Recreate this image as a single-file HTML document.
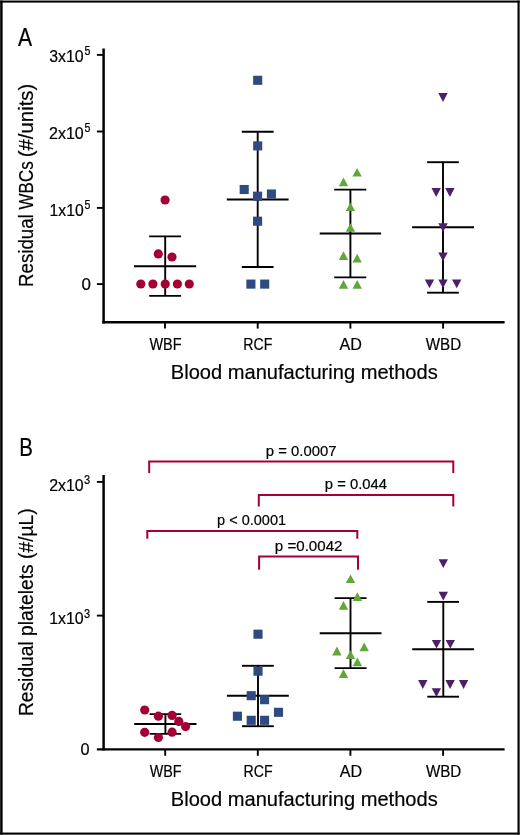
<!DOCTYPE html>
<html><head><meta charset="utf-8"><style>
html,body{margin:0;padding:0;background:#fff;}
svg{display:block;will-change:transform;}
text{font-family:"Liberation Sans",sans-serif;font-kerning:none;stroke:#000;stroke-width:0.2px;}
</style></head><body>
<svg width="520" height="835" viewBox="0 0 520 835">
<rect width="520" height="835" fill="#fff"/>
<line x1="103.6" y1="48.6" x2="103.6" y2="323.4" stroke="#000" stroke-width="2.5"/>
<line x1="102.35" y1="322.25" x2="504.6" y2="322.25" stroke="#000" stroke-width="2.3"/>
<line x1="96.9" y1="54.9" x2="103.6" y2="54.9" stroke="#000" stroke-width="1.9"/>
<line x1="96.9" y1="131.5" x2="103.6" y2="131.5" stroke="#000" stroke-width="1.9"/>
<line x1="96.9" y1="207.9" x2="103.6" y2="207.9" stroke="#000" stroke-width="1.9"/>
<line x1="96.9" y1="284.1" x2="103.6" y2="284.1" stroke="#000" stroke-width="1.9"/>
<line x1="165.0" y1="322.25" x2="165.0" y2="328.6" stroke="#000" stroke-width="1.9"/>
<line x1="257.7" y1="322.25" x2="257.7" y2="328.6" stroke="#000" stroke-width="1.9"/>
<line x1="350.4" y1="322.25" x2="350.4" y2="328.6" stroke="#000" stroke-width="1.9"/>
<line x1="443.1" y1="322.25" x2="443.1" y2="328.6" stroke="#000" stroke-width="1.9"/>
<line x1="165.2" y1="236.4" x2="165.2" y2="295.9" stroke="#000" stroke-width="1.9"/>
<line x1="149.2" y1="236.4" x2="181.1" y2="236.4" stroke="#000" stroke-width="1.9"/>
<line x1="149.2" y1="295.9" x2="181.1" y2="295.9" stroke="#000" stroke-width="1.9"/>
<line x1="134.0" y1="266.3" x2="196.2" y2="266.3" stroke="#000" stroke-width="2.1"/>
<line x1="257.7" y1="131.8" x2="257.7" y2="267.0" stroke="#000" stroke-width="1.9"/>
<line x1="241.8" y1="131.8" x2="273.6" y2="131.8" stroke="#000" stroke-width="1.9"/>
<line x1="241.8" y1="267.0" x2="273.6" y2="267.0" stroke="#000" stroke-width="1.9"/>
<line x1="226.8" y1="199.5" x2="288.6" y2="199.5" stroke="#000" stroke-width="2.1"/>
<line x1="350.4" y1="189.6" x2="350.4" y2="277.4" stroke="#000" stroke-width="1.9"/>
<line x1="334.2" y1="189.6" x2="366.3" y2="189.6" stroke="#000" stroke-width="1.9"/>
<line x1="334.2" y1="277.4" x2="366.3" y2="277.4" stroke="#000" stroke-width="1.9"/>
<line x1="319.7" y1="233.5" x2="381.1" y2="233.5" stroke="#000" stroke-width="2.1"/>
<line x1="443.0" y1="162.2" x2="443.0" y2="292.7" stroke="#000" stroke-width="1.9"/>
<line x1="427.1" y1="162.2" x2="458.8" y2="162.2" stroke="#000" stroke-width="1.9"/>
<line x1="427.1" y1="292.7" x2="458.8" y2="292.7" stroke="#000" stroke-width="1.9"/>
<line x1="412.1" y1="227.3" x2="474.0" y2="227.3" stroke="#000" stroke-width="2.1"/>
<circle cx="165.1" cy="200.0" r="4.6" fill="#A50034"/>
<circle cx="158.3" cy="253.9" r="4.6" fill="#A50034"/>
<circle cx="172.0" cy="257.0" r="4.6" fill="#A50034"/>
<circle cx="140.8" cy="284.0" r="4.6" fill="#A50034"/>
<circle cx="152.9" cy="284.0" r="4.6" fill="#A50034"/>
<circle cx="165.2" cy="284.0" r="4.6" fill="#A50034"/>
<circle cx="177.4" cy="284.0" r="4.6" fill="#A50034"/>
<circle cx="189.3" cy="284.0" r="4.6" fill="#A50034"/>
<rect x="253.15" y="75.75" width="9.1" height="9.1" fill="#2E4A80"/>
<rect x="253.15" y="141.35" width="9.1" height="9.1" fill="#2E4A80"/>
<rect x="239.65" y="184.95" width="9.1" height="9.1" fill="#2E4A80"/>
<rect x="253.05" y="191.65" width="9.1" height="9.1" fill="#2E4A80"/>
<rect x="266.85" y="189.45" width="9.1" height="9.1" fill="#2E4A80"/>
<rect x="253.05" y="216.65" width="9.1" height="9.1" fill="#2E4A80"/>
<rect x="246.35" y="279.55" width="9.1" height="9.1" fill="#2E4A80"/>
<rect x="260.15" y="279.55" width="9.1" height="9.1" fill="#2E4A80"/>
<polygon points="357.10,167.90 352.40,176.60 361.80,176.60" fill="#62A63A"/>
<polygon points="343.50,177.40 338.80,186.20 348.20,186.20" fill="#62A63A"/>
<polygon points="350.40,202.50 345.70,211.10 355.10,211.10" fill="#62A63A"/>
<polygon points="350.40,223.30 345.70,231.80 355.10,231.80" fill="#62A63A"/>
<polygon points="343.50,251.20 338.80,260.00 348.20,260.00" fill="#62A63A"/>
<polygon points="357.10,253.80 352.40,262.50 361.80,262.50" fill="#62A63A"/>
<polygon points="343.50,280.00 338.80,288.80 348.20,288.80" fill="#62A63A"/>
<polygon points="357.20,280.00 352.50,288.80 361.90,288.80" fill="#62A63A"/>
<polygon points="443.00,101.90 438.30,93.00 447.70,93.00" fill="#4E1E66"/>
<polygon points="436.20,197.00 431.50,188.10 440.90,188.10" fill="#4E1E66"/>
<polygon points="449.90,197.00 445.20,188.10 454.60,188.10" fill="#4E1E66"/>
<polygon points="443.00,231.90 438.30,223.20 447.70,223.20" fill="#4E1E66"/>
<polygon points="443.00,261.20 438.30,252.50 447.70,252.50" fill="#4E1E66"/>
<polygon points="429.50,288.30 424.80,279.50 434.20,279.50" fill="#4E1E66"/>
<polygon points="443.00,288.30 438.30,279.50 447.70,279.50" fill="#4E1E66"/>
<polygon points="456.70,288.30 452.00,279.50 461.40,279.50" fill="#4E1E66"/>
<text x="18.06" y="45.60" font-size="25.1" textLength="14.08" lengthAdjust="spacingAndGlyphs" fill="#000" >A</text>
<text x="49.19" y="61.50" font-size="16" textLength="34.53" lengthAdjust="spacingAndGlyphs" fill="#000" >3x10</text>
<text x="84.38" y="54.60" font-size="12.1" textLength="5.87" lengthAdjust="spacingAndGlyphs" fill="#000" >5</text>
<text x="48.99" y="138.90" font-size="16" textLength="34.73" lengthAdjust="spacingAndGlyphs" fill="#000" >2x10</text>
<text x="84.38" y="132.00" font-size="12.1" textLength="5.87" lengthAdjust="spacingAndGlyphs" fill="#000" >5</text>
<text x="49.60" y="215.60" font-size="16" textLength="34.11" lengthAdjust="spacingAndGlyphs" fill="#000" >1x10</text>
<text x="84.38" y="208.70" font-size="12.1" textLength="5.87" lengthAdjust="spacingAndGlyphs" fill="#000" >5</text>
<text x="81.44" y="290.10" font-size="16" textLength="9.42" lengthAdjust="spacingAndGlyphs" fill="#000" >0</text>
<text x="149.44" y="350.20" font-size="16.6" textLength="32.14" lengthAdjust="spacingAndGlyphs" fill="#000" >WBF</text>
<text x="243.24" y="350.20" font-size="16.6" textLength="29.13" lengthAdjust="spacingAndGlyphs" fill="#000" >RCF</text>
<text x="339.57" y="350.20" font-size="16.6" textLength="22.40" lengthAdjust="spacingAndGlyphs" fill="#000" >AD</text>
<text x="425.73" y="350.20" font-size="16.6" textLength="35.39" lengthAdjust="spacingAndGlyphs" fill="#000" >WBD</text>
<text x="170.85" y="378.70" font-size="20.2" textLength="266.87" lengthAdjust="spacingAndGlyphs" fill="#000" >Blood manufacturing methods</text>
<text transform="translate(32.90,0) rotate(-90)" x="-286.93" y="0" font-size="20.2" textLength="72.68" lengthAdjust="spacingAndGlyphs">Residual</text>
<text transform="translate(32.90,0) rotate(-90)" x="-209.47" y="0" font-size="20.2" textLength="48.19" lengthAdjust="spacingAndGlyphs">WBCs</text>
<text transform="translate(32.90,0) rotate(-90)" x="-157.26" y="0" font-size="20.2" textLength="73.52" lengthAdjust="spacingAndGlyphs">(#/units)</text>
<line x1="103.6" y1="475.0" x2="103.6" y2="750.5" stroke="#000" stroke-width="2.5"/>
<line x1="96.9" y1="749.4" x2="504.6" y2="749.4" stroke="#000" stroke-width="2.3"/>
<line x1="96.9" y1="481.9" x2="103.6" y2="481.9" stroke="#000" stroke-width="1.9"/>
<line x1="96.9" y1="615.6" x2="103.6" y2="615.6" stroke="#000" stroke-width="1.9"/>
<line x1="165.2" y1="749.4" x2="165.2" y2="755.8" stroke="#000" stroke-width="1.9"/>
<line x1="257.8" y1="749.4" x2="257.8" y2="755.8" stroke="#000" stroke-width="1.9"/>
<line x1="350.4" y1="749.4" x2="350.4" y2="755.8" stroke="#000" stroke-width="1.9"/>
<line x1="443.1" y1="749.4" x2="443.1" y2="755.8" stroke="#000" stroke-width="1.9"/>
<line x1="165.4" y1="714.1" x2="165.4" y2="733.9" stroke="#000" stroke-width="1.9"/>
<line x1="149.6" y1="714.1" x2="181.2" y2="714.1" stroke="#000" stroke-width="1.9"/>
<line x1="149.6" y1="733.9" x2="181.2" y2="733.9" stroke="#000" stroke-width="1.9"/>
<line x1="134.2" y1="724.0" x2="196.5" y2="724.0" stroke="#000" stroke-width="2.1"/>
<line x1="258.0" y1="665.8" x2="258.0" y2="726.2" stroke="#000" stroke-width="1.9"/>
<line x1="242.0" y1="665.8" x2="273.8" y2="665.8" stroke="#000" stroke-width="1.9"/>
<line x1="242.0" y1="726.2" x2="273.8" y2="726.2" stroke="#000" stroke-width="1.9"/>
<line x1="226.9" y1="695.8" x2="288.8" y2="695.8" stroke="#000" stroke-width="2.1"/>
<line x1="350.5" y1="598.1" x2="350.5" y2="668.1" stroke="#000" stroke-width="1.9"/>
<line x1="334.6" y1="598.1" x2="366.6" y2="598.1" stroke="#000" stroke-width="1.9"/>
<line x1="334.6" y1="668.1" x2="366.6" y2="668.1" stroke="#000" stroke-width="1.9"/>
<line x1="319.7" y1="633.2" x2="381.5" y2="633.2" stroke="#000" stroke-width="2.1"/>
<line x1="443.3" y1="601.9" x2="443.3" y2="696.7" stroke="#000" stroke-width="1.9"/>
<line x1="427.3" y1="601.9" x2="459.0" y2="601.9" stroke="#000" stroke-width="1.9"/>
<line x1="427.3" y1="696.7" x2="459.0" y2="696.7" stroke="#000" stroke-width="1.9"/>
<line x1="412.2" y1="649.2" x2="474.0" y2="649.2" stroke="#000" stroke-width="2.1"/>
<circle cx="144.7" cy="710.0" r="4.6" fill="#A50034"/>
<circle cx="158.4" cy="716.2" r="4.6" fill="#A50034"/>
<circle cx="172.1" cy="715.4" r="4.6" fill="#A50034"/>
<circle cx="178.8" cy="721.4" r="4.6" fill="#A50034"/>
<circle cx="185.6" cy="726.6" r="4.6" fill="#A50034"/>
<circle cx="144.7" cy="732.3" r="4.6" fill="#A50034"/>
<circle cx="158.4" cy="737.5" r="4.6" fill="#A50034"/>
<circle cx="172.1" cy="732.2" r="4.6" fill="#A50034"/>
<rect x="253.45" y="629.65" width="9.1" height="9.1" fill="#2E4A80"/>
<rect x="253.45" y="666.65" width="9.1" height="9.1" fill="#2E4A80"/>
<rect x="246.65" y="691.15" width="9.1" height="9.1" fill="#2E4A80"/>
<rect x="260.05" y="695.15" width="9.1" height="9.1" fill="#2E4A80"/>
<rect x="232.85" y="711.65" width="9.1" height="9.1" fill="#2E4A80"/>
<rect x="273.95" y="707.75" width="9.1" height="9.1" fill="#2E4A80"/>
<rect x="246.65" y="715.75" width="9.1" height="9.1" fill="#2E4A80"/>
<rect x="260.05" y="715.75" width="9.1" height="9.1" fill="#2E4A80"/>
<polygon points="350.50,574.40 345.80,583.10 355.20,583.10" fill="#62A63A"/>
<polygon points="357.40,592.20 352.70,600.90 362.10,600.90" fill="#62A63A"/>
<polygon points="343.50,601.00 338.80,609.70 348.20,609.70" fill="#62A63A"/>
<polygon points="364.20,642.50 359.50,651.30 368.90,651.30" fill="#62A63A"/>
<polygon points="336.90,646.60 332.20,655.40 341.60,655.40" fill="#62A63A"/>
<polygon points="350.50,650.20 345.80,658.90 355.20,658.90" fill="#62A63A"/>
<polygon points="357.40,657.60 352.70,666.30 362.10,666.30" fill="#62A63A"/>
<polygon points="343.50,669.10 338.80,677.90 348.20,677.90" fill="#62A63A"/>
<polygon points="443.30,568.10 438.60,559.20 448.00,559.20" fill="#4E1E66"/>
<polygon points="443.30,600.50 438.60,591.80 448.00,591.80" fill="#4E1E66"/>
<polygon points="436.50,648.60 431.80,640.10 441.20,640.10" fill="#4E1E66"/>
<polygon points="450.30,648.60 445.60,640.10 455.00,640.10" fill="#4E1E66"/>
<polygon points="422.80,688.90 418.10,680.10 427.50,680.10" fill="#4E1E66"/>
<polygon points="450.10,688.90 445.40,680.10 454.80,680.10" fill="#4E1E66"/>
<polygon points="463.60,688.90 458.90,680.10 468.30,680.10" fill="#4E1E66"/>
<polygon points="436.40,697.10 431.70,688.30 441.10,688.30" fill="#4E1E66"/>
<polyline points="149.2,473.0 149.2,461.5 453.3,461.5 453.3,473.0" fill="none" stroke="#A50034" stroke-width="2.0" stroke-linejoin="miter"/>
<polyline points="258.8,506.5 258.8,495.1 453.3,495.1 453.3,506.5" fill="none" stroke="#A50034" stroke-width="2.0" stroke-linejoin="miter"/>
<polyline points="147.3,538.7 147.3,531.0 357.3,531.0 357.3,538.7" fill="none" stroke="#A50034" stroke-width="2.0" stroke-linejoin="miter"/>
<polyline points="259.1,569.8 259.1,556.5 358.0,556.5 358.0,569.8" fill="none" stroke="#A50034" stroke-width="2.0" stroke-linejoin="miter"/>
<text x="265.84" y="455.80" font-size="14.8" textLength="70.60" lengthAdjust="spacingAndGlyphs" fill="#000" >p = 0.0007</text>
<text x="324.85" y="488.60" font-size="14.8" textLength="62.09" lengthAdjust="spacingAndGlyphs" fill="#000" >p = 0.044</text>
<text x="217.06" y="524.60" font-size="14.8" textLength="69.05" lengthAdjust="spacingAndGlyphs" fill="#000" >p &lt; 0.0001</text>
<text x="274.83" y="550.90" font-size="14.8" textLength="67.63" lengthAdjust="spacingAndGlyphs" fill="#000" >p =0.0042</text>
<text x="19.32" y="455.50" font-size="25.1" textLength="13.66" lengthAdjust="spacingAndGlyphs" fill="#000" >B</text>
<text x="49.20" y="490.90" font-size="16" textLength="34.52" lengthAdjust="spacingAndGlyphs" fill="#000" >2x10</text>
<text x="83.98" y="484.00" font-size="12.1" textLength="6.10" lengthAdjust="spacingAndGlyphs" fill="#000" >3</text>
<text x="49.19" y="624.40" font-size="16" textLength="34.54" lengthAdjust="spacingAndGlyphs" fill="#000" >1x10</text>
<text x="83.98" y="617.50" font-size="12.1" textLength="6.10" lengthAdjust="spacingAndGlyphs" fill="#000" >3</text>
<text x="80.56" y="755.40" font-size="16" textLength="9.07" lengthAdjust="spacingAndGlyphs" fill="#000" >0</text>
<text x="149.74" y="777.30" font-size="16.6" textLength="31.84" lengthAdjust="spacingAndGlyphs" fill="#000" >WBF</text>
<text x="243.44" y="777.30" font-size="16.6" textLength="29.13" lengthAdjust="spacingAndGlyphs" fill="#000" >RCF</text>
<text x="339.77" y="777.30" font-size="16.6" textLength="22.40" lengthAdjust="spacingAndGlyphs" fill="#000" >AD</text>
<text x="425.93" y="777.30" font-size="16.6" textLength="35.39" lengthAdjust="spacingAndGlyphs" fill="#000" >WBD</text>
<text x="170.85" y="805.70" font-size="20.2" textLength="266.87" lengthAdjust="spacingAndGlyphs" fill="#000" >Blood manufacturing methods</text>
<text transform="translate(33.10,0) rotate(-90)" x="-716.08" y="0" font-size="20.2" textLength="207.77" lengthAdjust="spacingAndGlyphs">Residual platelets (#/µL)</text>
<rect x="0.17" y="0.54" width="519.48" height="2.06" fill="#000"/>
<rect x="0.17" y="0.54" width="2.45" height="834.11" fill="#000"/>
<rect x="517.5" y="0.54" width="2.15" height="834.11" fill="#000"/>
<rect x="0.17" y="832.55" width="519.48" height="2.1" fill="#000"/>
</svg>
</body></html>
